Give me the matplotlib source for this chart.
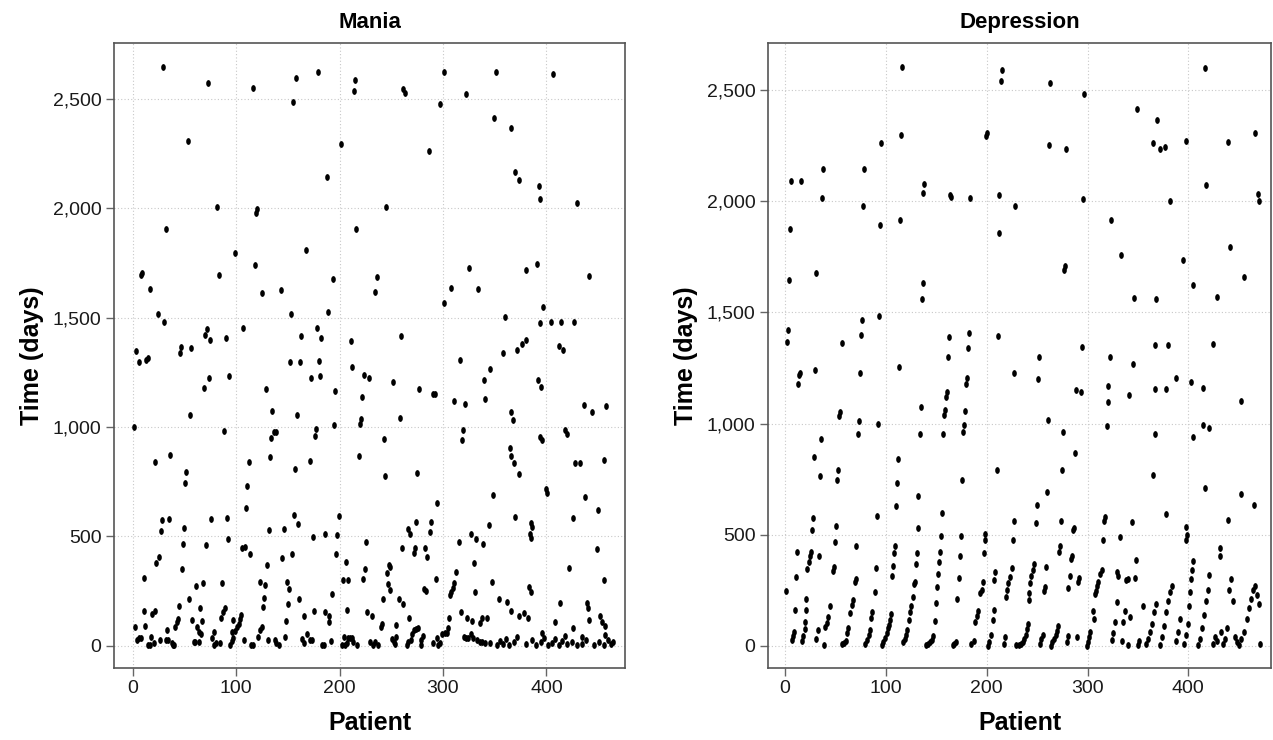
import matplotlib
matplotlib.use("Agg")
import matplotlib.pyplot as plt
from matplotlib.path import Path
from matplotlib.transforms import Affine2D
from matplotlib.ticker import FuncFormatter

plt.rcParams["font.family"] = ["Liberation Sans", "DejaVu Sans"]

# ---- Mania: (patient, days), grouped by height ----
mania_top = [(29, 2644), (73, 2571), (53, 2306), (116, 2550), (155, 2488), (158, 2597), (179, 2623),
             (188, 2145), (201, 2296), (214, 2538), (215, 2588), (261, 2545), (263, 2529), (286, 2261),
             (297, 2477), (301, 2623), (322, 2524), (349, 2413), (351, 2623), (366, 2367), (370, 2165),
             (373, 2128), (393, 2102), (394, 2043), (406, 2614), (430, 2024), (82, 2005), (32, 1906),
             (119, 1980), (120, 1995), (216, 1906), (245, 2005)]
mania_upper = [(8, 1694), (9, 1704), (17, 1630), (24, 1516), (30, 1481), (3, 1347), (46, 1337), (47, 1366),
               (56, 1359), (70, 1420), (72, 1446), (75, 1398), (90, 1406), (83, 1694), (99, 1794), (107, 1455),
               (118, 1743), (125, 1615), (143, 1628), (153, 1516), (163, 1418), (168, 1810), (178, 1455),
               (182, 1405), (189, 1528), (194, 1676), (211, 1392), (234, 1619), (236, 1684), (259, 1418),
               (301, 1567), (308, 1634), (325, 1728), (334, 1630), (316, 1305), (152, 1295), (162, 1298),
               (180, 1302), (6, 1295), (13, 1306), (15, 1315), (74, 1226), (93, 1235), (172, 1222), (181, 1234),
               (212, 1273), (224, 1238), (228, 1226), (252, 1206), (340, 1217), (345, 1266), (391, 1745),
               (380, 1717), (441, 1690), (397, 1549), (394, 1475), (404, 1479), (414, 1479), (427, 1479),
               (360, 1502), (372, 1350), (376, 1380), (380, 1400), (358, 1340), (412, 1370), (416, 1350),
               (392, 1215)]
mania_mid = [(69, 1177), (55, 1053), (1, 999), (88, 981), (22, 839), (36, 874), (52, 793), (51, 745),
             (129, 1174), (135, 1072), (159, 1056), (137, 975), (139, 976), (134, 948), (133, 864), (112, 841),
             (111, 731), (157, 810), (171, 843), (177, 990), (176, 960), (196, 1165), (195, 1010), (222, 1138),
             (221, 1036), (220, 1013), (219, 867), (243, 946), (244, 777), (258, 1039), (275, 791), (277, 1172),
             (290, 1150), (292, 1150), (311, 1118), (321, 1106), (319, 987), (318, 940), (341, 1127), (348, 689),
             (110, 629), (294, 651), (395, 1183), (436, 1100), (444, 1067), (458, 1095), (366, 1067),
             (368, 1031), (394, 954), (396, 940), (418, 985), (420, 967), (365, 904), (366, 867), (369, 835),
             (373, 785), (456, 849), (428, 835), (432, 835), (400, 717), (401, 698), (437, 680), (450, 620)]
mania_low = [(11, 308), (23, 376), (25, 404), (27, 523), (28, 574), (35, 579), (48, 350), (49, 463), (50, 539),
             (54, 213), (61, 273), (68, 286), (71, 459), (76, 579), (86, 286), (91, 585), (92, 489), (106, 445),
             (109, 452), (113, 419), (130, 367), (123, 290), (128, 279), (132, 529), (127, 216), (144, 402),
             (146, 533), (154, 419), (156, 596), (160, 557), (149, 290), (151, 259), (161, 213), (174, 495),
             (186, 509), (198, 504), (199, 593), (197, 419), (206, 382), (203, 299), (208, 299), (193, 235),
             (226, 472), (225, 350), (223, 303), (242, 213), (246, 333), (248, 367), (249, 362), (247, 283),
             (249, 256), (257, 213), (260, 448), (266, 534), (268, 509), (274, 564), (272, 422), (273, 446),
             (283, 445), (285, 405), (287, 518), (288, 566), (293, 303), (282, 258), (284, 250), (315, 475),
             (313, 338), (311, 288), (310, 262), (308, 247), (307, 232), (327, 513), (332, 487), (339, 465),
             (330, 376), (331, 244), (344, 553), (347, 292), (370, 588), (426, 584), (385, 560), (386, 542),
             (384, 512), (385, 493), (449, 442), (422, 355), (456, 300), (383, 268), (385, 245), (354, 213),
             (362, 200), (413, 195), (439, 195), (440, 172)]
mania_base = [(2, 84), (4, 26), (6, 34), (8, 36), (11, 160), (12, 91), (15, 3), (17, 3), (18, 41), (21, 14),
              (19, 145), (22, 160), (26, 26), (32, 26), (34, 26), (33, 72), (38, 14), (39, 3), (40, 3), (41, 87),
              (43, 110), (44, 122), (45, 183), (57, 117), (59, 15), (60, 15), (64, 15), (62, 84), (64, 61),
              (65, 174), (67, 113), (66, 52), (77, 34), (79, 3), (81, 11), (84, 11), (79, 61), (85, 128),
              (87, 152), (89, 174), (94, 3), (96, 21), (97, 34), (96, 61), (97, 117), (99, 68), (101, 84),
              (103, 98), (104, 122), (105, 140), (108, 26), (114, 3), (116, 3), (121, 41), (123, 72), (125, 84),
              (126, 178), (131, 26), (138, 26), (139, 11), (141, 3), (147, 38), (148, 114), (150, 189), (164, 30),
              (166, 14), (166, 137), (169, 52), (171, 26), (173, 26), (175, 160), (183, 3), (185, 3), (186, 152),
              (190, 137), (190, 110), (192, 21), (202, 3), (204, 41), (205, 3), (207, 11), (208, 34), (210, 34),
              (212, 36), (213, 18), (217, 3), (207, 163), (227, 152), (231, 137), (229, 18), (232, 3), (234, 18),
              (237, 3), (240, 87), (241, 98), (251, 30), (253, 18), (254, 6), (255, 94), (255, 41), (261, 189),
              (267, 128), (265, 3), (266, 18), (269, 26), (270, 52), (272, 72), (274, 75), (276, 79), (279, 26),
              (279, 3), (281, 46), (290, 11), (294, 36), (295, 3), (297, 11), (299, 52), (302, 57), (304, 57),
              (305, 82), (306, 128), (317, 152), (320, 41), (322, 34), (324, 34), (327, 52), (329, 36), (333, 26),
              (336, 18), (338, 18), (341, 14), (345, 11), (323, 128), (328, 113), (336, 102), (338, 128),
              (343, 128), (366, 160), (373, 135), (378, 150), (382, 125), (441, 117), (452, 136), (454, 108),
              (457, 90), (457, 49), (396, 60), (408, 110), (426, 80), (434, 40), (352, 5), (355, 20), (358, 10),
              (361, 30), (364, 3), (369, 15), (372, 40), (380, 8), (386, 25), (390, 3), (395, 18), (398, 35),
              (402, 5), (405, 12), (408, 30), (412, 3), (415, 22), (418, 45), (420, 8), (425, 15), (430, 3),
              (434, 10), (438, 28), (446, 5), (451, 18), (456, 3), (460, 25), (462, 8), (464, 15)]

# ---- Depression ----
dep_top = [(116, 2605), (115, 2297), (95, 2261), (6, 2091), (16, 2091), (38, 2144), (78, 2144), (37, 2013),
           (138, 2076), (137, 2037), (164, 2028), (165, 2017), (183, 2013), (200, 2305), (199, 2293),
           (212, 2026), (215, 2592), (214, 2541), (262, 2252), (263, 2530), (279, 2233), (297, 2481),
           (296, 2010), (349, 2414), (77, 1980), (114, 1915), (228, 1980), (323, 1915), (417, 2600),
           (466, 2306), (369, 2366), (365, 2262), (372, 2235), (377, 2244), (398, 2270), (439, 2266),
           (382, 2000), (418, 2072), (469, 2032), (470, 2000)]
dep_upper = [(5, 1877), (4, 1644), (31, 1677), (94, 1892), (137, 1634), (136, 1561), (212, 1856), (333, 1760),
             (277, 1692), (278, 1707), (346, 1565), (3, 1422), (2, 1367), (56, 1360), (76, 1465), (75, 1400),
             (93, 1483), (163, 1387), (162, 1297), (182, 1407), (181, 1339), (211, 1395), (252, 1297),
             (295, 1346), (322, 1297), (14, 1218), (15, 1226), (30, 1240), (74, 1228), (113, 1252), (180, 1204),
             (227, 1229), (251, 1200), (345, 1268), (441, 1794), (395, 1735), (455, 1659), (405, 1623),
             (428, 1570), (368, 1561), (367, 1353), (380, 1353), (424, 1357), (388, 1204)]
dep_mid = [(13, 1179), (179, 1177), (161, 1140), (160, 1119), (135, 1073), (159, 1059), (158, 1038), (178, 1056),
           (289, 1151), (294, 1140), (320, 1169), (320, 1095), (341, 1128), (54, 1053), (53, 1033), (73, 1011),
           (72, 955), (92, 999), (36, 930), (29, 850), (35, 766), (52, 793), (51, 745), (112, 841), (111, 732),
           (132, 674), (134, 951), (157, 951), (177, 992), (176, 961), (175, 745), (261, 1017), (276, 963),
           (288, 868), (275, 791), (210, 790), (260, 692), (319, 988), (110, 629), (250, 635), (403, 1186),
           (415, 1160), (367, 1155), (378, 1155), (452, 1100), (415, 992), (421, 980), (367, 952), (405, 939),
           (365, 770), (417, 709), (452, 681), (465, 632)]
dep_low = [(1, 248), (11, 308), (12, 424), (22, 346), (24, 379), (25, 402), (26, 421), (27, 523), (28, 573),
           (34, 406), (21, 209), (47, 338), (48, 353), (49, 465), (50, 540), (69, 289), (70, 301), (67, 208),
           (70, 448), (89, 244), (90, 349), (91, 585), (106, 316), (107, 361), (108, 417), (109, 451), (127, 218),
           (128, 280), (129, 289), (130, 369), (131, 418), (132, 529), (151, 263), (152, 322), (153, 376),
           (154, 420), (155, 492), (156, 597), (171, 211), (172, 304), (173, 402), (174, 495), (193, 238),
           (195, 251), (196, 289), (197, 418), (198, 477), (198, 504), (207, 298), (208, 331), (219, 218),
           (220, 251), (221, 283), (223, 308), (225, 352), (226, 474), (227, 561), (242, 238), (243, 283),
           (244, 316), (246, 343), (247, 369), (249, 554), (257, 248), (258, 263), (259, 353), (272, 424),
           (273, 448), (274, 561), (281, 259), (283, 316), (284, 391), (285, 406), (286, 519), (287, 529),
           (291, 286), (292, 304), (307, 233), (308, 248), (309, 271), (310, 289), (312, 323), (314, 343),
           (315, 474), (316, 561), (317, 579), (332, 489), (330, 316), (329, 331), (338, 298), (340, 301),
           (347, 304), (348, 387), (344, 556), (10, 162), (21, 162), (45, 177), (66, 184), (86, 150), (124, 150),
           (125, 181), (150, 193), (191, 158), (207, 162), (242, 208), (305, 158), (329, 195), (337, 158),
           (355, 181), (378, 593), (439, 566), (398, 535), (399, 499), (398, 475), (431, 440), (431, 403)]
dep_base = [(7, 27), (8, 42), (9, 60), (17, 23), (18, 45), (20, 75), (20, 108), (31, 30), (33, 72), (39, 3),
            (40, 83), (42, 102), (43, 128), (56, 8), (58, 12), (60, 23), (61, 57), (62, 78), (64, 148), (79, 8),
            (81, 27), (83, 48), (84, 72), (85, 123), (96, 3), (97, 15), (99, 33), (101, 57), (102, 78), (103, 93),
            (104, 117), (105, 143), (117, 15), (119, 30), (120, 48), (121, 72), (123, 117), (140, 3), (142, 8),
            (144, 15), (146, 27), (147, 45), (149, 113), (167, 3), (168, 8), (170, 15), (184, 8), (187, 23),
            (188, 108), (190, 135), (201, 0), (202, 15), (204, 48), (206, 117), (217, 8), (218, 38), (229, 3),
            (232, 3), (234, 8), (236, 18), (237, 30), (239, 48), (240, 75), (241, 98), (253, 8), (254, 30),
            (256, 48), (264, 0), (265, 15), (267, 30), (269, 48), (270, 68), (271, 87), (280, 15), (281, 45),
            (290, 38), (299, 0), (300, 15), (301, 38), (302, 63), (306, 120), (324, 27), (325, 57), (327, 105),
            (334, 23), (335, 108), (340, 3), (342, 128), (350, 3), (351, 23),
            (358, 10), (360, 30), (362, 60), (364, 100), (366, 150), (368, 190), (372, 5), (374, 40), (376, 90),
            (378, 150), (380, 200), (382, 240), (384, 270), (388, 20), (390, 60), (392, 120), (396, 10),
            (398, 50), (400, 100), (401, 180), (402, 240), (403, 300), (404, 340), (405, 380), (410, 5),
            (412, 30), (414, 80), (416, 140), (418, 200), (420, 250), (421, 320), (424, 10), (426, 40),
            (428, 20), (432, 60), (434, 10), (436, 30), (438, 80), (440, 250), (442, 300), (444, 200), (446, 40),
            (448, 15), (450, 5), (452, 30), (455, 60), (458, 120), (460, 170), (462, 210), (464, 250),
            (466, 270), (468, 230), (470, 190), (471, 10)]

mania = mania_top + mania_upper + mania_mid + mania_low + mania_base
depression = dep_top + dep_upper + dep_mid + dep_low + dep_base

# small upright ellipse like the original dots
dot = Path.unit_circle().transformed(Affine2D().scale(0.68, 1.0))
comma = FuncFormatter(lambda v, _: f"{v:,.0f}")


def panel(ax, pts, title, xlim, ylim):
    x = [p for p, _ in pts]
    y = [d for _, d in pts]
    ax.scatter(x, y, marker=dot, s=24, c="black", linewidths=0, zorder=3)
    ax.set_xlim(*xlim)
    ax.set_ylim(*ylim)
    ax.set_xticks([0, 100, 200, 300, 400])
    ax.set_yticks([0, 500, 1000, 1500, 2000, 2500])
    ax.yaxis.set_major_formatter(comma)
    ax.grid(True, color="#c8c8c8", linestyle=(0, (1, 2)), linewidth=0.8)
    ax.set_axisbelow(True)
    for sp in ax.spines.values():
        sp.set_color("#555555")
        sp.set_linewidth(1.2)
    ax.tick_params(length=6, width=1, color="#666666", labelsize=14, labelcolor="#1a1a1a", pad=3)
    ax.set_title(title, fontsize=16, fontweight="bold", pad=11)
    ax.set_xlabel("Patient", fontsize=18, fontweight="bold", labelpad=10)
    ax.set_ylabel("Time (days)", fontsize=18, fontweight="bold", labelpad=6)


fig = plt.figure(figsize=(12.73, 7.40), dpi=100)
ax1 = fig.add_axes([0.0896, 0.0973, 0.4014, 0.8446])
ax2 = fig.add_axes([0.6033, 0.0973, 0.3951, 0.8446])

panel(ax1, mania, "Mania", (-18, 476), (-102, 2756))
panel(ax2, depression, "Depression", (-17, 482), (-100, 2712))

fig.savefig("out.png", dpi=100)
